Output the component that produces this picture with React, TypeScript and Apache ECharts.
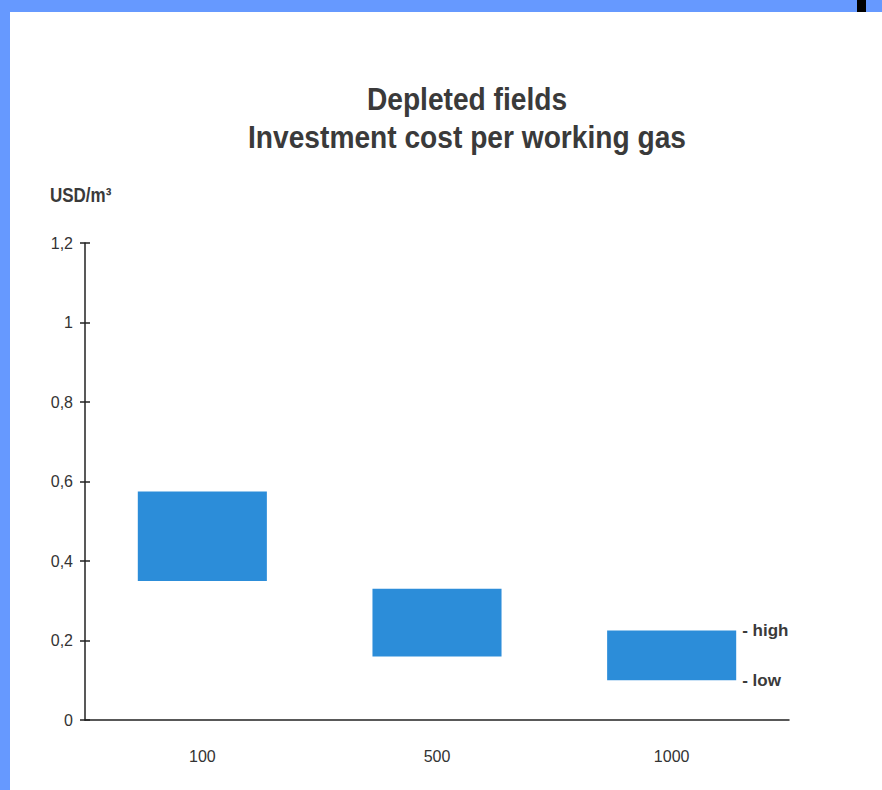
import React, { useEffect, useRef } from "react";
import * as echarts from "echarts";

// Storage size classes (million m³ working gas)
const categories = ["100", "500", "1000"];
// Investment cost range, USD per m³ of working gas
const lowValues = [0.35, 0.16, 0.1];
const highValues = [0.575, 0.33, 0.225];

const TITLE_LINES = ["Depleted fields", "Investment cost per working gas"];
const UNIT = "USD/m³";
const BAR_COLOR = "#2c8dd9";
const FRAME_BLUE = "#6699ff";
const SANS = "'Liberation Sans', Arial, sans-serif";

export default function App() {
  const ref = useRef<HTMLDivElement | null>(null);

  useEffect(() => {
    if (!ref.current) return;
    const chart = echarts.init(ref.current, null, { renderer: "svg" });
    const last = categories.length - 1;

    const markLabel = (text: string) => ({
      show: true,
      position: ["100%", 0] as any,
      align: "left",
      verticalAlign: "middle",
      offset: [6, 0],
      formatter: text,
      color: "#3a3a3a",
      fontFamily: SANS,
      fontWeight: "bold",
      fontSize: 17,
    });

    const baseData = lowValues.map((v, i) =>
      i === last ? { value: v, label: markLabel("- low") } : { value: v }
    );
    const rangeData = highValues.map((h, i) => {
      const v = +(h - lowValues[i]).toFixed(4);
      return i === last ? { value: v, label: markLabel("- high") } : { value: v };
    });

    const yAxisCommon = {
      type: "value" as const,
      min: 0,
      max: 1.2,
      interval: 0.2,
      splitLine: { show: false },
    };

    chart.setOption({
      animation: false,
      backgroundColor: "#ffffff",
      graphic: [
        { type: "rect", left: 0, top: 0, shape: { width: 882, height: 12 }, style: { fill: FRAME_BLUE }, z: 10 },
        { type: "rect", left: 0, top: 0, shape: { width: 10, height: 790 }, style: { fill: FRAME_BLUE }, z: 10 },
        { type: "rect", left: 857, top: 0, shape: { width: 9, height: 12 }, style: { fill: "#000000" }, z: 11 },
        {
          type: "text",
          x: 467,
          y: 80,
          scaleX: 0.88,
          style: {
            text: TITLE_LINES.join("\n"),
            fill: "#3a3a3a",
            font: `bold 32px ${SANS}`,
            lineHeight: 38,
            textAlign: "center",
          },
        },
        {
          type: "text",
          x: 50,
          y: 185,
          scaleX: 0.85,
          style: { text: UNIT, fill: "#3a3a3a", font: `bold 20px ${SANS}` },
        },
      ],
      grid: { left: 85, right: 93, top: 243, bottom: 70, containLabel: false },
      xAxis: {
        type: "category",
        data: categories,
        axisLine: { show: true, lineStyle: { color: "#222", width: 1.5 } },
        axisTick: { show: false },
        axisLabel: { color: "#333", fontSize: 16, fontFamily: SANS, margin: 28 },
      },
      yAxis: [
        {
          ...yAxisCommon,
          axisLine: { show: true, lineStyle: { color: "#222", width: 1.5 } },
          axisTick: { show: true, length: 5, lineStyle: { color: "#222", width: 1.5 } },
          axisLabel: {
            color: "#333",
            fontSize: 16,
            fontFamily: SANS,
            margin: 12,
            formatter: (v: number) => String(+v.toFixed(1)).replace(".", ","),
          },
        },
        {
          ...yAxisCommon,
          position: "left",
          axisLine: { show: false },
          axisTick: { show: true, inside: true, length: 5, lineStyle: { color: "#222", width: 1.5 } },
          axisLabel: { show: false },
        },
      ],
      series: [
        {
          name: "low",
          type: "bar",
          stack: "cost",
          barWidth: "55%",
          data: baseData,
          itemStyle: { color: "rgba(0,0,0,0)" },
          silent: true,
        },
        {
          name: "range",
          type: "bar",
          stack: "cost",
          barWidth: "55%",
          data: rangeData,
          itemStyle: { color: BAR_COLOR },
        },
      ],
    });

    return () => chart.dispose();
  }, []);

  return (
    <div
      ref={ref}
      style={{ position: "absolute", left: 0, top: 0, width: 882, height: 790 }}
    />
  );
}
